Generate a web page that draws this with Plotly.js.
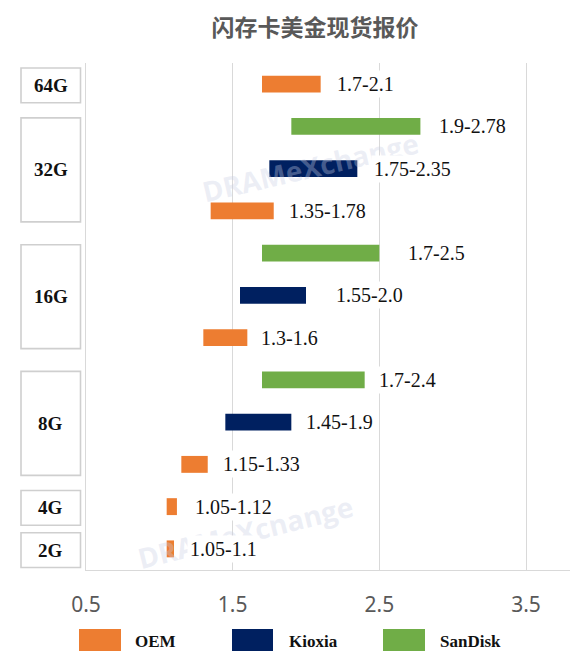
<!DOCTYPE html>
<html>
<head>
<meta charset="utf-8">
<script src="https://cdn.plot.ly/plotly-3.0.1.min.js"></script>
<style>html,body{margin:0;padding:0;background:#fff;}#chart{width:570px;height:665px;}</style>
</head>
<body>
<div id="chart"></div>
<script>
// ---- data ----
const capacities = ['64G', '32G', '16G', '8G', '4G', '2G'];
const rowCapacity = ['64G', '32G', '32G', '32G', '16G', '16G', '16G', '8G', '8G', '8G', '4G', '2G'];
const rowBrand = ['OEM', 'SanDisk', 'Kioxia', 'OEM', 'SanDisk', 'Kioxia', 'OEM', 'SanDisk', 'Kioxia', 'OEM', 'OEM', 'OEM'];
const priceLow = [1.7, 1.9, 1.75, 1.35, 1.7, 1.55, 1.3, 1.7, 1.45, 1.15, 1.05, 1.05];
const priceHigh = [2.1, 2.78, 2.35, 1.78, 2.5, 2.0, 1.6, 2.4, 1.9, 1.33, 1.12, 1.1];
const priceLabels = ['1.7-2.1', '1.9-2.78', '1.75-2.35', '1.35-1.78', '1.7-2.5', '1.55-2.0', '1.3-1.6', '1.7-2.4', '1.45-1.9', '1.15-1.33', '1.05-1.12', '1.05-1.1'];
const seriesNames = ['OEM', 'Kioxia', 'SanDisk'];
const xTickVals = [0.5, 1.5, 2.5, 3.5];
const xTickText = ['0.5', '1.5', '2.5', '3.5'];
const chartTitle = '闪存卡美金现货报价';
const watermark = 'DRAMeXchange';

// ---- styles ----
const colors = {OEM: '#ED7D31', Kioxia: '#002060', SanDisk: '#70AD47'};
const labelGap = [13, 16, 14, 12, 26, 27, 11, 11, 12, 12, 15, 13];
const W = 570, H = 665, ML = 86, MR = 0, MT = 63, MB = 95;
const PW = W - ML - MR, PH = H - MT - MB;
const px2x = p => (p - ML) / PW;
const px2y = p => (H - MB - p) / PH;

const rowIds = rowCapacity.map((c, i) => c + ' ' + rowBrand[i]);

const traces = seriesNames.map(name => {
  const idx = rowBrand.map((b, i) => b === name ? i : -1).filter(i => i >= 0);
  return {
    type: 'bar',
    orientation: 'h',
    name: name,
    y: idx.map(i => rowIds[i]),
    x: idx.map(i => priceHigh[i] - priceLow[i]),
    base: idx.map(i => priceLow[i]),
    width: 0.4,
    marker: {color: colors[name], line: {width: 0}},
    hoverinfo: 'skip',
    showlegend: false
  };
});

const shapes = [];
const annotations = [];

// watermarks (drawn first, faint)
[[310, 167, -13], [245, 532, -14]].forEach(([cx, cy, ang]) => {
  annotations.push({
    xref: 'paper', yref: 'paper', x: px2x(cx), y: px2y(cy),
    text: '<b>' + watermark + '</b>', showarrow: false, textangle: ang,
    xanchor: 'center', yanchor: 'middle',
    font: {family: 'Open Sans, Noto Sans, sans-serif', size: 28, color: 'rgba(200,206,228,0.35)'}
  });
});

// capacity boxes at left
capacities.forEach(cap => {
  const first = rowCapacity.indexOf(cap);
  const last = rowCapacity.lastIndexOf(cap);
  const center = (first + last) / 2 + 0.03;
  const half = first === last ? 0.41 : (last - first) / 2 + 0.23;
  shapes.push({
    type: 'rect', xref: 'paper', yref: 'y',
    x0: px2x(21), x1: px2x(80.5), y0: center - half, y1: center + half,
    line: {color: '#cfcfcf', width: 1.6}, fillcolor: 'rgba(0,0,0,0)', layer: 'above'
  });
  annotations.push({
    xref: 'paper', yref: 'y', x: px2x(50.5), y: center,
    text: '<b>' + cap + '</b>', showarrow: false, xanchor: 'center', yanchor: 'middle',
    font: {family: 'Liberation Serif, DejaVu Serif, serif', size: 19, color: '#111'}
  });
});

// price labels
rowIds.forEach((id, i) => {
  annotations.push({
    xref: 'x', yref: 'y', x: priceHigh[i], y: id, xshift: labelGap[i],
    text: priceLabels[i], showarrow: false, xanchor: 'left', yanchor: 'middle',
    bgcolor: '#ffffff', borderpad: 2,
    font: {family: 'Liberation Serif, DejaVu Serif, serif', size: 20, color: '#111'}
  });
});

// manual legend
const legendPos = [[79, 121, 133], [232, 273, 287], [383, 425, 438]];
seriesNames.forEach((name, k) => {
  const [a, b, t] = legendPos[k];
  shapes.push({
    type: 'rect', xref: 'paper', yref: 'paper',
    x0: px2x(a), x1: px2x(b), y0: px2y(651), y1: px2y(629),
    line: {width: 0}, fillcolor: colors[name]
  });
  annotations.push({
    xref: 'paper', yref: 'paper', x: px2x(t), y: px2y(641),
    text: '<b>' + name + '</b>', showarrow: false, xanchor: 'left', yanchor: 'middle',
    font: {family: 'Liberation Serif, DejaVu Serif, serif', size: 17, color: '#111'}
  });
});

const layout = {
  width: W, height: H,
  margin: {l: ML, r: MR, t: MT, b: MB, pad: 0},
  paper_bgcolor: '#ffffff', plot_bgcolor: '#ffffff',
  title: {
    text: chartTitle, xref: 'container', yref: 'container',
    x: 315 / W, y: 1 - 28 / H, xanchor: 'center', yanchor: 'middle',
    font: {family: 'Noto Sans CJK SC, sans-serif', size: 23, color: '#595959', weight: 'bold'}
  },
  barmode: 'overlay',
  xaxis: {
    range: [0.5, 3.8], tickvals: xTickVals, ticktext: xTickText,
    showgrid: true, gridcolor: '#d9d9d9', gridwidth: 1,
    zeroline: false, showline: true, linecolor: '#d9d9d9', linewidth: 1,
    ticks: '', ticklabelstandoff: 16,
    tickfont: {family: 'Noto Sans, Open Sans, sans-serif', size: 21, color: '#595959'},
    fixedrange: true
  },
  yaxis: {
    type: 'category', categoryarray: rowIds, categoryorder: 'array',
    range: [rowIds.length - 0.5, -0.5],
    showticklabels: false, showgrid: false, zeroline: false,
    showline: true, linecolor: '#d9d9d9', linewidth: 1, ticks: '',
    fixedrange: true
  },
  shapes: shapes,
  annotations: annotations,
  showlegend: false
};

Plotly.newPlot('chart', traces, layout, {displayModeBar: false, staticPlot: true});
</script>
</body>
</html>
